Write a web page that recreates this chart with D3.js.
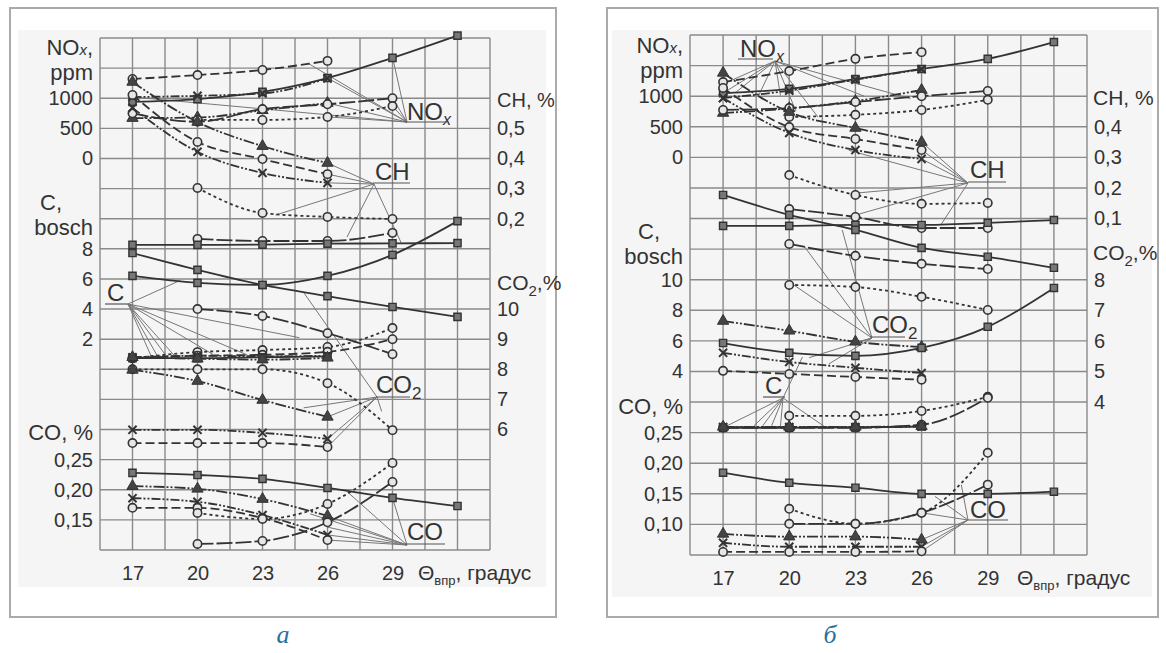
<!DOCTYPE html>
<html>
<head>
<meta charset="utf-8">
<title>NOx, CH, C, CO2, CO</title>
<style>
  body { margin: 0; background: #fff; }
  svg text { fill: #333; }
</style>
</head>
<body>
<div id="chart"></div>
<script src="https://cdn.jsdelivr.net/npm/d3@7"></script>
<script>
// intake air temperature, degrees
var temps = [17, 20, 23, 26, 29, 32];
var xTicks = [17, 20, 23, 26, 29];

// tick labels of the stacked scales
var noxTicks = [1000, 500, 0];
var chTicksA = [0.5, 0.4, 0.3, 0.2];
var cTicksA = [8, 6, 4, 2];
var co2TicksA = [10, 9, 8, 7, 6];
var coTicksA = [0.25, 0.20, 0.15];
var chTicksB = [0.4, 0.3, 0.2, 0.1];
var cTicksB = [10, 8, 6, 4];
var co2TicksB = [8, 7, 6, 5, 4];
var coTicksB = [0.25, 0.20, 0.15, 0.10];

// panel a  (kind = regime marker, v = value at each temp)
var noxA = [
  {kind: "oDash", v: [1320, 1385, 1470, 1620, null, null]},
  {kind: "sq",    v: [940, 985, 1105, 1335, 1670, 2040]},
  {kind: "xDdd",  v: [1020, 1040, 1080, 1330, null, null]},
  {kind: "tDdd",  v: [670, 680, 800, 920, null, null]},
  {kind: "oLong", v: [750, 610, 820, 900, 1000, null]},
  {kind: "oDot",  v: [null, 640, 640, 690, 870, null]}
];
var chA = [
  {kind: "tDdd",  v: [0.654, 0.521, 0.441, 0.385, null, null]},
  {kind: "oDash", v: [0.611, 0.455, 0.398, 0.348, null, null]},
  {kind: "xDdd",  v: [0.568, 0.422, 0.352, 0.319, null, null]},
  {kind: "oDot",  v: [null, 0.302, 0.219, 0.206, 0.199, null]},
  {kind: "oLong", v: [null, 0.133, 0.126, 0.126, 0.153, null]},
  {kind: "sq",    v: [0.113, 0.113, 0.114, 0.117, 0.118, 0.119]}
];
var cA = [
  {kind: "sq",    v: [6.2, 5.74, 5.6, 6.2, 7.6, 9.84]},
  {kind: "oDot",  v: [0.74, 1.14, 1.28, 1.48, 2.74, null]},
  {kind: "oDash", v: [0.74, 0.9, 0.96, 1.16, 2.0, null]},
  {kind: "sq",    v: [0.74, 0.74, 0.8, 0.86, null, null]},
  {kind: "xDdd",  v: [0.8, 0.9, 0.86, 0.9, null, null]},
  {kind: "tDdd",  v: [0.8, 0.7, 0.64, 0.76, null, null]}
];
var co2A = [
  {kind: "sq",    v: [11.86, 11.3, 10.8, 10.43, 10.07, 9.74]},
  {kind: "oLong", v: [null, 10.0, 9.77, 9.2, 8.5, null]},
  {kind: "oDot",  v: [8.0, 8.0, 8.0, 7.54, 5.98, null]},
  {kind: "tDdd",  v: [7.98, 7.61, 6.98, 6.42, null, null]},
  {kind: "xDdd",  v: [5.99, 5.99, 5.89, 5.69, null, null]},
  {kind: "oDash", v: [5.55, 5.55, 5.55, 5.42, null, null]}
];
var coA = [
  {kind: "sq",    v: [0.228, 0.2245, 0.218, 0.203, 0.1865, 0.173]},
  {kind: "tDdd",  v: [0.206, 0.2015, 0.1845, 0.1565, null, null]},
  {kind: "xDdd",  v: [0.186, 0.18, 0.158, 0.125, null, null]},
  {kind: "oDash", v: [0.17, 0.17, 0.153, 0.1165, null, null]},
  {kind: "oDot",  v: [null, 0.1615, 0.1515, 0.1765, 0.2445, null]},
  {kind: "oLong", v: [null, 0.11, 0.115, 0.146, 0.213, null]}
];

// panel б
var noxB = [
  {kind: "oDash", v: [1230, 1410, 1610, 1720, null, null]},
  {kind: "sq",    v: [1050, 1120, 1280, 1445, 1610, 1885]},
  {kind: "xDdd",  v: [970, 1090, 1270, 1440, null, null]},
  {kind: "tDdd",  v: [725, 800, 920, 1100, null, null]},
  {kind: "oLong", v: [775, 805, 905, 1000, 1085, null]},
  {kind: "oDot",  v: [null, 660, 695, 775, 940, null]}
];
var chB = [
  {kind: "tDdd",  v: [0.576, 0.448, 0.396, 0.35, null, null]},
  {kind: "oDash", v: [0.527, 0.399, 0.36, 0.324, null, null]},
  {kind: "xDdd",  v: [0.494, 0.38, 0.324, 0.295, null, null]},
  {kind: "oDot",  v: [null, 0.242, 0.177, 0.148, 0.151, null]},
  {kind: "oLong", v: [null, 0.131, 0.105, 0.069, 0.069, null]},
  {kind: "sq",    v: [0.076, 0.076, 0.079, 0.079, 0.086, 0.095]}
];
var co2B = [
  {kind: "sq",    v: [10.77, 10.12, 9.63, 9.04, 8.75, 8.39]},
  {kind: "oLong", v: [null, 9.17, 8.78, 8.52, 8.35, null]},
  {kind: "oDot",  v: [null, 7.83, 7.76, 7.44, 7.01, null]}
];
var cB = [
  {kind: "tDdd",  v: [7.3, 6.66, 5.94, 5.6, null, null]},
  {kind: "sq",    v: [5.86, 5.22, 5.02, 5.54, 6.92, 9.46]},
  {kind: "xDdd",  v: [5.22, 4.62, 4.24, 3.9, null, null]},
  {kind: "oDash", v: [4.04, 3.84, 3.64, 3.46, null, null]},
  {kind: "oDot",  v: [null, 1.1, 1.1, 1.42, 2.34, null]},
  {kind: "oLong", v: [0.32, 0.32, 0.32, 0.52, 2.28, null]},
  {kind: "sq",    v: [0.32, 0.32, 0.34, 0.4, null, null]},
  {kind: "xDdd",  v: [0.36, 0.36, 0.36, 0.4, null, null]},
  {kind: "tDdd",  v: [0.38, 0.38, 0.38, 0.42, null, null]}
];
var coB = [
  {kind: "sq",    v: [0.1845, 0.168, 0.16, 0.15, 0.15, 0.1535]},
  {kind: "oDot",  v: [null, 0.1255, 0.101, 0.119, 0.217, null]},
  {kind: "oLong", v: [null, 0.101, 0.101, 0.119, 0.165, null]},
  {kind: "tDdd",  v: [0.0845, 0.08, 0.08, 0.075, null, null]},
  {kind: "xDdd",  v: [0.07, 0.0635, 0.0635, 0.0635, null, null]},
  {kind: "oDash", v: [0.055, 0.055, 0.055, 0.056, null, null]}
];

// leader line targets: [scale, temp, value]
var leadNoxA = [["nox",17,1020],["nox",25.08,1585],["nox",29,1685],["nox",26,1335],["nox",26,920],["nox",26,690],["nox",29,1000],["nox",29,870]];
var leadChA = [["ch",26,0.385],["ch",26,0.348],["ch",26,0.319],["ch",23.6,0.212],["ch",26.9,0.139],["ch",29.4,0.12]];
var leadCA = [["c",19.2,5.9],["c",17.9,0.75],["c",18.2,0.75],["c",18.6,0.8],["c",19,0.8],["c",20.7,1.0],["c",22.3,0.95],["c",24.7,2.1]];
var leadCo2A = [["co2",24.9,10.55],["co2",24.9,6.72],["co2",26,6.42],["co2",26,5.69],["co2",26,5.42],["co2",28.5,6.6]];
var leadCoA = [["co",26.9,0.197],["co",29,0.1865],["co",26,0.1565],["co",26,0.138],["co",26,0.125],["co",26,0.1165],["co",25.2,0.16]];
var leadNoxB = [["nox",17.2,1230],["nox",17,1050],["nox",17.6,1070],["nox",18.6,1000],["nox",19.6,1010],["nox",20.3,760],["nox",21.3,660],["nox",23.4,1000],["nox",25.5,960]];
var leadChB = [["ch",26,0.35],["ch",26,0.324],["ch",26,0.295],["ch",22.7,0.323],["ch",23,0.183],["ch",22.7,0.105],["ch",26.9,0.082]];
var leadCo2B = [["co2",22.4,9.63],["co2",20.7,9.07],["co2",20.2,7.83],["c",23,5.9],["c",21.8,4.5],["c",20.9,4.9]];
var leadCB = [["c",17,0.32],["c",18.4,0.45],["c",18.8,0.45],["c",19.2,0.45],["c",19.6,0.4],["c",21.7,0.3],["c",20.6,4.95]];
var leadCoB = [["co",26.6,0.146],["co",26,0.119],["co",26,0.075],["co",26,0.0635],["co",26,0.056],["co",27.8,0.165]];

var styles = {
  sq:    {sym: "square",   dash: null},
  oDash: {sym: "circle",   dash: "9,4"},
  oLong: {sym: "circle",   dash: "16,3"},
  oDot:  {sym: "circle",   dash: "3,3"},
  xDdd:  {sym: "x",        dash: "9,2,2,2,2,2"},
  tDdd:  {sym: "triangle", dash: "11,2,2,2,2,2"}
};

var sans = "'Liberation Sans', Arial, sans-serif";
var svg = d3.select("#chart").append("svg").attr("width", 1166).attr("height", 653)
  .style("font-family", sans);

function comma(p) {
  var f = d3.format(p);
  return function(d) { return f(d).replace(".", ","); };
}

// text made of pieces: {s, size, it, sub}
function richText(g, x, y, size, anchor, parts) {
  var t = g.append("text").attr("x", x).attr("y", y).attr("font-size", size).attr("text-anchor", anchor);
  var shift = 0;
  parts.forEach(function(pt) {
    var want = pt.sub ? pt.sub : 0;
    var ts = t.append("tspan").attr("dy", want - shift).text(pt.s);
    if (pt.size) ts.attr("font-size", pt.size);
    if (pt.it) ts.attr("font-style", "italic");
    shift = want;
  });
  return t;
}

function drawPanel(p) {
  var g = svg.append("g");
  g.append("rect").attr("x", p.bg[0]).attr("y", p.bg[1]).attr("width", p.bg[2]).attr("height", p.bg[3]).attr("fill", "#f5f5f5");
  g.append("rect").attr("x", p.frame[0]).attr("y", p.frame[1]).attr("width", p.frame[2]).attr("height", p.frame[3])
    .attr("fill", "none").attr("stroke", "#aaa").attr("stroke-width", 2);

  var x = d3.scaleLinear().domain([15.5, 33.5]).range([p.left, p.right]);
  var row = d3.scaleLinear().domain([0, 17]).range([p.top, p.bottom]);
  var ys = {};
  p.axes.forEach(function(a) {
    ys[a.key] = d3.scaleLinear().domain(a.domain).range([row(a.rows[0]), row(a.rows[1])]);
  });

  // grid
  g.selectAll(null).data(d3.range(15.5, 33.6, 1.5)).enter().append("line")
    .attr("x1", function(d) { return x(d); }).attr("x2", function(d) { return x(d); })
    .attr("y1", p.top).attr("y2", p.bottom).attr("stroke", "#8a8a8a").attr("stroke-width", 1.4);
  g.selectAll(null).data(d3.range(0, 18)).enter().append("line")
    .attr("x1", p.left).attr("x2", p.right)
    .attr("y1", function(d) { return row(d); }).attr("y2", function(d) { return row(d); })
    .attr("stroke", "#8a8a8a").attr("stroke-width", 1.4);

  // axes
  p.axes.forEach(function(a) {
    var axis = (a.side === "left" ? d3.axisLeft(ys[a.key]) : d3.axisRight(ys[a.key]))
      .tickValues(a.ticks).tickFormat(a.fmt).tickSize(0).tickPadding(0);
    var ag = g.append("g")
      .attr("transform", "translate(" + (a.side === "left" ? p.left - 7 : p.right + 7) + ",0)")
      .call(axis);
    ag.select(".domain").remove();
    ag.attr("font-size", null).attr("font-family", null);
    ag.selectAll("text").attr("font-size", 20).attr("fill", "#333");
  });
  var xa = g.append("g").attr("transform", "translate(0," + p.bottom + ")")
    .call(d3.axisBottom(x).tickValues(xTicks).tickSize(0).tickPadding(16));
  xa.select(".domain").remove();
  xa.attr("font-size", null).attr("font-family", null);
  xa.selectAll("text").attr("font-size", 20).attr("fill", "#333");

  // leaders
  p.labels.forEach(function(L) {
    g.selectAll(null).data(L.lead).enter().append("line")
      .attr("x1", L.anchor[0]).attr("y1", L.anchor[1])
      .attr("x2", function(d) { return x(d[1]); })
      .attr("y2", function(d) { return ys[d[0]](d[2]); })
      .attr("stroke", "#777").attr("stroke-width", 1);
  });

  // series
  p.series.forEach(function(grp) {
    var y = ys[grp.key];
    var line = d3.line().x(function(d) { return x(d.t); }).y(function(d) { return y(d.v); }).curve(d3.curveMonotoneX);
    grp.list.forEach(function(s) {
      var st = styles[s.kind];
      var pts = temps.map(function(t, i) { return {t: t, v: s.v[i]}; }).filter(function(d) { return d.v != null; });
      g.append("path").datum(pts).attr("d", line).attr("fill", "none")
        .attr("stroke", "#333").attr("stroke-width", 1.8)
        .attr("stroke-dasharray", st.dash);
      var sym = g.selectAll(null).data(pts).enter().append("path")
        .attr("transform", function(d) { return "translate(" + x(d.t) + "," + y(d.v) + ")"; });
      if (st.sym === "circle") {
        sym.attr("d", d3.symbol(d3.symbolCircle, 55)).attr("fill", "#e6e6e6").attr("stroke", "#333").attr("stroke-width", 1.6);
      } else if (st.sym === "square") {
        sym.attr("d", d3.symbol(d3.symbolSquare, 52)).attr("fill", "#777").attr("stroke", "#333").attr("stroke-width", 1.4);
      } else if (st.sym === "triangle") {
        sym.attr("d", d3.symbol(d3.symbolTriangle, 55)).attr("fill", "#444").attr("stroke", "#333").attr("stroke-width", 1);
      } else {
        sym.attr("d", d3.symbol(d3.symbolTimes || d3.symbolCross, 45)).attr("fill", "none").attr("stroke", "#333").attr("stroke-width", 2);
      }
    });
  });

  // group labels with underline
  p.labels.forEach(function(L) {
    richText(g, L.x, L.y, 24, "start", L.parts);
    g.append("line").attr("x1", L.ul[0]).attr("x2", L.ul[1]).attr("y1", L.ul[2]).attr("y2", L.ul[2])
      .attr("stroke", "#555").attr("stroke-width", 1.2);
  });

  // scale titles
  p.titles.forEach(function(T) {
    richText(g, T.x, T.y, T.size, T.anchor, T.parts);
  });

  // x-axis name
  richText(g, p.xName[0], p.xName[1], 21, "start",
    [{s: "\u0398"}, {s: "впр", size: 13, sub: 5}, {s: ", градус"}]);

  svg.append("text").attr("x", p.letter[0]).attr("y", p.letter[1]).attr("font-size", 26)
    .style("font-family", "'Liberation Serif', 'DejaVu Serif', serif").attr("font-style", "italic")
    .attr("text-anchor", "middle").style("fill", "#2a6f9a").text(p.letter[2]);
}

var noxLabel = [{s: "NO"}, {s: "x", size: 16, it: true, sub: 5}];
var co2Label = [{s: "CO"}, {s: "2", size: 17, sub: 6}];
var noxTitle = [{s: "NO"}, {s: "x", size: 15, it: true}, {s: ","}];

drawPanel({
  left: 100, right: 490, top: 38, bottom: 550,
  frame: [10, 8, 546, 609], bg: [18, 30, 528, 557],
  axes: [
    {key: "nox", domain: [0, 1000], rows: [4, 2], side: "left", ticks: noxTicks, fmt: d3.format("d")},
    {key: "ch", domain: [0.2, 0.5], rows: [6, 3], side: "right", ticks: chTicksA, fmt: comma(".1f")},
    {key: "c", domain: [2, 8], rows: [10, 7], side: "left", ticks: cTicksA, fmt: d3.format("d")},
    {key: "co2", domain: [6, 10], rows: [13, 9], side: "right", ticks: co2TicksA, fmt: d3.format("d")},
    {key: "co", domain: [0.15, 0.25], rows: [16, 14], side: "left", ticks: coTicksA, fmt: comma(".2f")}
  ],
  series: [{key: "nox", list: noxA}, {key: "ch", list: chA}, {key: "c", list: cA}, {key: "co2", list: co2A}, {key: "co", list: coA}],
  labels: [
    {parts: noxLabel, x: 407, y: 120, ul: [405, 447, 122], anchor: [407, 122], lead: leadNoxA},
    {parts: [{s: "CH"}], x: 375, y: 180, ul: [373, 410, 183], anchor: [374, 184], lead: leadChA},
    {parts: [{s: "C"}], x: 107, y: 301, ul: [105, 128, 304], anchor: [128, 304], lead: leadCA},
    {parts: co2Label, x: 376, y: 393, ul: [376, 410, 397], anchor: [377, 397], lead: leadCo2A},
    {parts: [{s: "CO"}], x: 407, y: 540, ul: [405, 445, 544], anchor: [407, 545], lead: leadCoA}
  ],
  titles: [
    {x: 93, y: 55, size: 22, anchor: "end", parts: noxTitle},
    {x: 93, y: 80, size: 22, anchor: "end", parts: [{s: "ppm"}]},
    {x: 62, y: 210, size: 22, anchor: "end", parts: [{s: "C,"}]},
    {x: 93, y: 235, size: 22, anchor: "end", parts: [{s: "bosch"}]},
    {x: 93, y: 440, size: 22, anchor: "end", parts: [{s: "CO, %"}]},
    {x: 497, y: 107, size: 20, anchor: "start", parts: [{s: "CH, %"}]},
    {x: 497, y: 290, size: 21, anchor: "start", parts: [{s: "CO"}, {s: "2", size: 15, sub: 6}, {s: ",%"}]}
  ],
  xName: [418, 580],
  letter: [283, 643, "а"]
});

drawPanel({
  left: 690, right: 1087, top: 35, bottom: 555,
  frame: [607, 8, 551, 609], bg: [612, 30, 540, 567],
  axes: [
    {key: "nox", domain: [0, 1000], rows: [4, 2], side: "left", ticks: noxTicks, fmt: d3.format("d")},
    {key: "ch", domain: [0.1, 0.4], rows: [6, 3], side: "right", ticks: chTicksB, fmt: comma(".1f")},
    {key: "c", domain: [4, 10], rows: [11, 8], side: "left", ticks: cTicksB, fmt: d3.format("d")},
    {key: "co2", domain: [4, 8], rows: [12, 8], side: "right", ticks: co2TicksB, fmt: d3.format("d")},
    {key: "co", domain: [0.10, 0.25], rows: [16, 13], side: "left", ticks: coTicksB, fmt: comma(".2f")}
  ],
  series: [{key: "nox", list: noxB}, {key: "ch", list: chB}, {key: "co2", list: co2B}, {key: "c", list: cB}, {key: "co", list: coB}],
  labels: [
    {parts: noxLabel, x: 740, y: 57, ul: [738, 773, 59], anchor: [775, 61], lead: leadNoxB},
    {parts: [{s: "CH"}], x: 970, y: 178, ul: [968, 1006, 182], anchor: [968, 183], lead: leadChB},
    {parts: co2Label, x: 872, y: 333, ul: [870, 905, 337], anchor: [872, 338], lead: leadCo2B},
    {parts: [{s: "C"}], x: 765, y: 394, ul: [763, 785, 397], anchor: [783, 398], lead: leadCB},
    {parts: [{s: "CO"}], x: 970, y: 518, ul: [968, 1008, 520], anchor: [968, 520], lead: leadCoB}
  ],
  titles: [
    {x: 683, y: 53, size: 22, anchor: "end", parts: noxTitle},
    {x: 683, y: 78, size: 22, anchor: "end", parts: [{s: "ppm"}]},
    {x: 660, y: 239, size: 22, anchor: "end", parts: [{s: "C,"}]},
    {x: 683, y: 264, size: 22, anchor: "end", parts: [{s: "bosch"}]},
    {x: 683, y: 414, size: 22, anchor: "end", parts: [{s: "CO, %"}]},
    {x: 1093, y: 105, size: 21, anchor: "start", parts: [{s: "CH, %"}]},
    {x: 1093, y: 260, size: 21, anchor: "start", parts: [{s: "CO"}, {s: "2", size: 15, sub: 6}, {s: ",%"}]}
  ],
  xName: [1017, 585],
  letter: [830, 643, "б"]
});
</script>
</body>
</html>
